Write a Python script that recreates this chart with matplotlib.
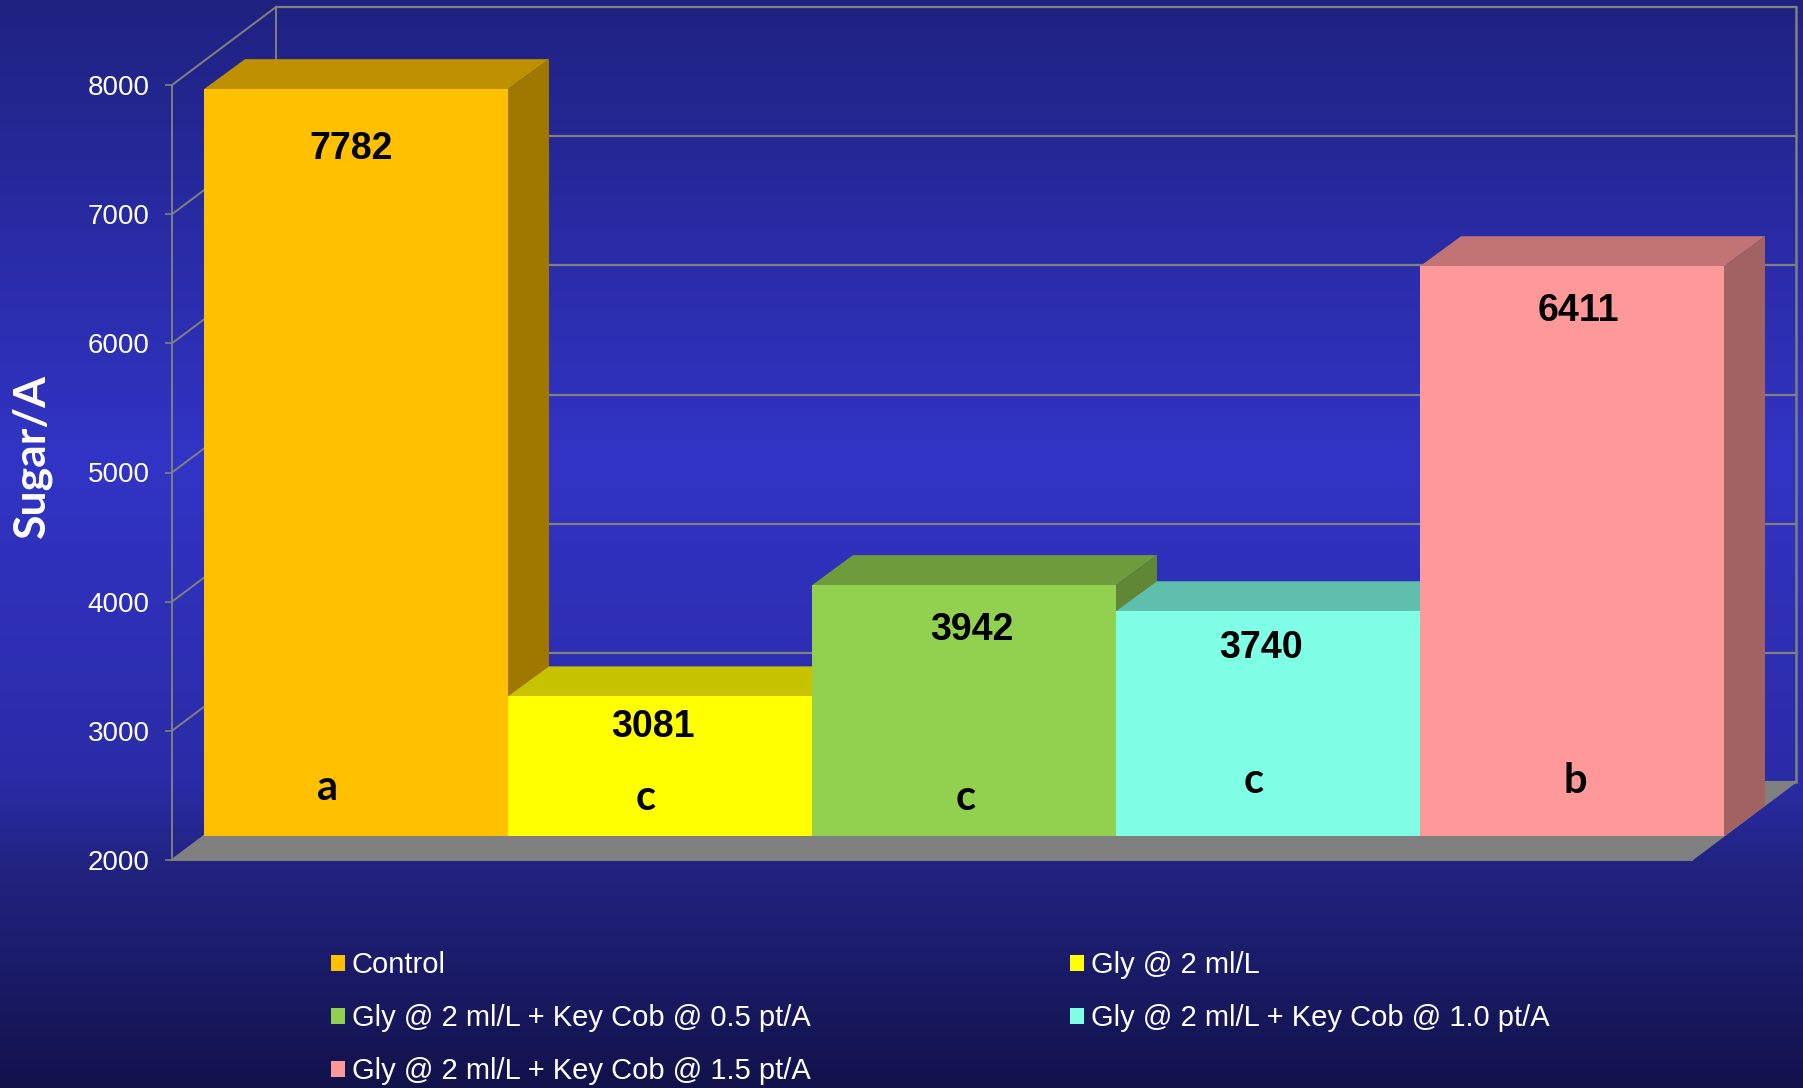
import numpy as np
import matplotlib.pyplot as plt
from matplotlib.colors import LinearSegmentedColormap
from matplotlib.patches import Polygon

# Treatments and yields
treatments = ['Control', 'Gly @ 2 ml/L', 'Gly @ 2 ml/L + Key Cob @ 0.5 pt/A',
              'Gly @ 2 ml/L + Key Cob @ 1.0 pt/A', 'Gly @ 2 ml/L + Key Cob @ 1.5 pt/A']
sugar = [7782, 3081, 3942, 3740, 6411]
groups = ['a', 'c', 'c', 'c', 'b']
y_ticks = [2000, 3000, 4000, 5000, 6000, 7000, 8000]

front_colors = ['#FFC000', '#FFFF00', '#92D050', '#7FFFE6', '#FF9999']
top_colors = ['#BF9000', '#C8C300', '#6E9C3C', '#5FBFAD', '#C27373']
side_colors = ['#A07800', '#A0A000', '#5F8734', '#50A090', '#A36262']

W, H = 1803, 1088
GRID = '#808080'

# label centres in pixels from the top left corner
value_pos = [(351, 149), (653, 727), (972, 630), (1261, 648), (1578, 311)]
group_pos = [(328, 788), (646, 798), (966, 798), (1254, 781), (1575, 781)]

fig = plt.figure(figsize=(W / 100, H / 100), dpi=100)

# background shading
bg = fig.add_axes([0, 0, 1, 1], zorder=0)
cmap = LinearSegmentedColormap.from_list('slide', [
    (0.0, '#1F2280'), (0.42, '#3234C6'), (0.72, '#2A2BA6'), (0.80, '#212380'), (1.0, '#12124B')])
bg.imshow(np.linspace(0, 1, 544).reshape(-1, 1), aspect='auto', cmap=cmap, vmin=0, vmax=1)
bg.axis('off')

# front plane of the box: x 172..1692 px, y 860..85 px
ax = fig.add_axes([172 / W, 1 - 860 / H, 1520 / W, 775 / H], zorder=1)
ax.set_xlim(0, 5)
ax.set_ylim(2000, 8000)
ax.patch.set_visible(False)

px_x = 5 / 1520
px_y = 6000 / 775


def depth(x, y, dx, dy):
    # step back into the box by a pixel offset
    return (x + dx * px_x, y + dy * px_y)


# floor
ax.add_patch(Polygon([depth(0, 2000, 0, 0), depth(5, 2000, 0, 0), depth(5, 2000, 104, 78), depth(0, 2000, 104, 78)],
                     closed=True, fc=GRID, ec=GRID, lw=1, zorder=1, clip_on=False))

# walls
for t in y_ticks:
    xb, yb = depth(0, t, 104, 78)
    xr, _ = depth(5, t, 104, 78)
    ax.plot([0, xb], [t, yb], color=GRID, lw=1.4, zorder=1, clip_on=False)
    ax.plot([xb, xr], [yb, yb], color=GRID, lw=1.6, zorder=1, clip_on=False)
xb, yb0 = depth(0, 2000, 104, 78)
xr, yb1 = depth(5, 8000, 104, 78)
ax.plot([xb, xb], [yb0, yb1], color=GRID, lw=1.4, zorder=1, clip_on=False)
ax.plot([xr, xr], [yb0, yb1], color=GRID, lw=1.8, zorder=1, clip_on=False)

# sides first, then tops so a lower bar's top cuts its neighbour's side, fronts last
handles = []
for i, v in enumerate(sugar):
    fl = depth(i, v, 32, 24)
    fr = depth(i + 1, v, 32, 24)
    bl = depth(i, v, 73, 54)
    br = depth(i + 1, v, 73, 54)
    base_f = depth(i + 1, 2000, 32, 24)
    base_b = depth(i + 1, 2000, 73, 54)
    ax.add_patch(Polygon([fr, br, base_b, base_f], closed=True, fc=side_colors[i], ec='none', zorder=2, clip_on=False))
    ax.add_patch(Polygon([fl, fr, br, bl], closed=True, fc=top_colors[i], ec='none', zorder=3, clip_on=False))
    x0, y0 = depth(i, 2000, 32, 24)
    bar = ax.bar(x0, v - 2000, width=1, bottom=y0, align='edge', color=front_colors[i],
                 label=treatments[i], zorder=4, clip_on=False)
    handles.append(bar)

# value and group labels
for i in range(len(sugar)):
    fig.text(value_pos[i][0] / W, 1 - value_pos[i][1] / H, str(sugar[i]), color='black', fontsize=27,
             fontweight='bold', family='Liberation Sans', ha='center', va='center', zorder=5)
    fig.text(group_pos[i][0] / W, 1 - group_pos[i][1] / H, groups[i], color='black', fontsize=30,
             fontweight='bold', family='Lato', ha='center', va='center', zorder=5)

# axis cosmetics
ax.set_xticks([])
ax.set_yticks(y_ticks)
ax.tick_params(axis='y', colors=GRID, length=5, width=1.2, pad=11, labelcolor='white', labelsize=20)
for lab in ax.get_yticklabels():
    lab.set_family('Liberation Sans')
for s in ['top', 'right']:
    ax.spines[s].set_visible(False)
ax.spines['left'].set_color(GRID)
ax.spines['left'].set_linewidth(1.4)
ax.spines['bottom'].set_color(GRID)
ax.spines['bottom'].set_linewidth(1.2)
ax.set_ylabel('Sugar/A', color='white', fontsize=32, fontweight='bold', family='Lato', va='center')
ax.yaxis.set_label_coords((32 - 172) / 1520, (860 - 456) / 775)

# legend fills column by column
order = [0, 2, 4, 1, 3]
fig.legend([handles[k] for k in order], [treatments[k] for k in order], ncol=2, frameon=False,
           loc='upper left', bbox_to_anchor=(331 / W, 1 - 951 / H), borderpad=0, borderaxespad=0,
           handlelength=0.47, handleheight=0.47, handletextpad=0.24, labelspacing=0.86, columnspacing=8.9,
           prop={'family': 'Liberation Sans', 'size': 21}, labelcolor='white')

fig.savefig('out.png', dpi=100)
